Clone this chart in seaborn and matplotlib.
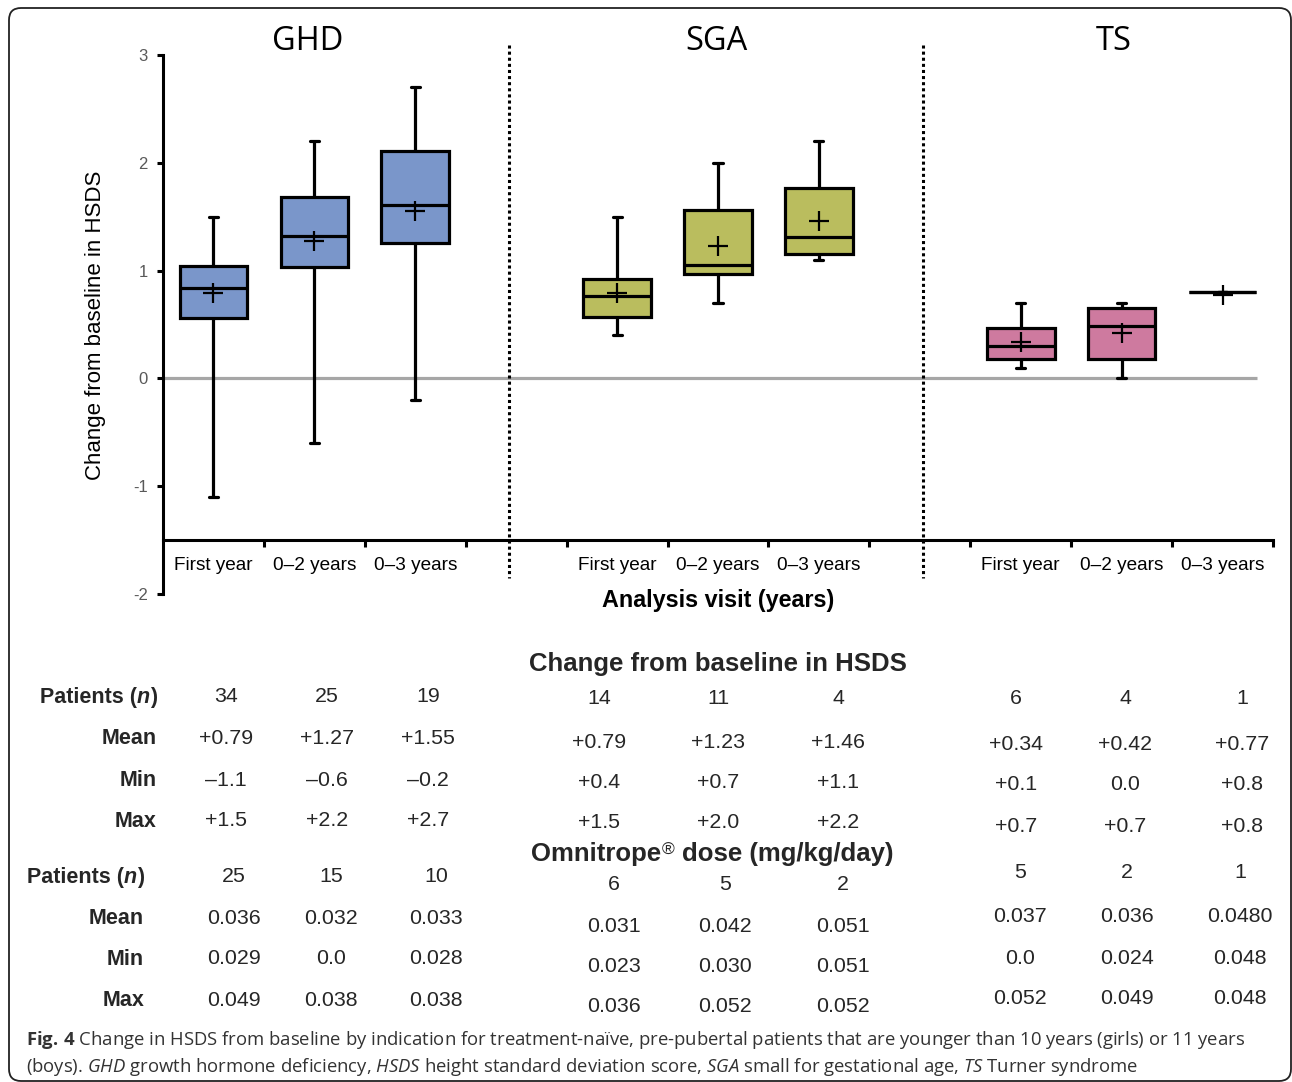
import numpy as np
import pandas as pd
import matplotlib
matplotlib.use("Agg")
import matplotlib.pyplot as plt
from matplotlib.patches import FancyBboxPatch
from matplotlib.transforms import IdentityTransform, blended_transform_factory
import seaborn as sns

# Indications and analysis visits (boxes ordered GHD, SGA, TS x visit)
indications = ["GHD", "SGA", "TS"]
visits = ["First year", "0–2 years", "0–3 years"]

# Change from baseline in HSDS
hsds_n = [34, 25, 19, 14, 11, 4, 6, 4, 1]
hsds_mean = [0.79, 1.27, 1.55, 0.79, 1.23, 1.46, 0.34, 0.42, 0.77]
hsds_min = [-1.1, -0.6, -0.2, 0.4, 0.7, 1.1, 0.1, 0.0, 0.8]
hsds_max = [1.5, 2.2, 2.7, 1.5, 2.0, 2.2, 0.7, 0.7, 0.8]
hsds_q1 = [0.56, 1.03, 1.26, 0.57, 0.97, 1.15, 0.18, 0.18, 0.80]
hsds_median = [0.84, 1.32, 1.61, 0.76, 1.05, 1.31, 0.30, 0.49, 0.80]
hsds_q3 = [1.04, 1.68, 2.11, 0.92, 1.56, 1.77, 0.47, 0.65, 0.80]

# Omnitrope dose (mg/kg/day)
dose_n = ["25", "15", "10", "6", "5", "2", "5", "2", "1"]
dose_mean = ["0.036", "0.032", "0.033", "0.031", "0.042", "0.051", "0.037", "0.036", "0.0480"]
dose_min = ["0.029", "0.0", "0.028", "0.023", "0.030", "0.051", "0.0", "0.024", "0.048"]
dose_max = ["0.049", "0.038", "0.038", "0.036", "0.052", "0.052", "0.052", "0.049", "0.048"]

palette = {"GHD": "#7a96ca", "SGA": "#babd5e", "TS": "#ce7a9f"}

# ---- long-form frame: five summary points per box give exact quartiles ----
box_ind = [ind for ind in indications for _ in visits]
box_visit = [v for _ in indications for v in visits]
box_slot = [f"{i} {v}" for i, v in zip(box_ind, box_visit)]
slot_order = box_slot[0:3] + ["gap1"] + box_slot[3:6] + ["gap2"] + box_slot[6:9]

rows = []
for k in range(len(box_slot)):
    for val in (hsds_min[k], hsds_q1[k], hsds_median[k], hsds_q3[k], hsds_max[k]):
        rows.append({"slot": box_slot[k], "indication": box_ind[k], "hsds": val})
df = pd.DataFrame(rows)

# ---- figure ----
W, H = 1292, 1082
sns.set_theme(style="white")
plt.rcParams["font.family"] = ["Liberation Sans", "DejaVu Sans"]
plt.rcParams["axes.unicode_minus"] = False
plt.rcParams["mathtext.fontset"] = "custom"
plt.rcParams["mathtext.rm"] = "Open Sans"
plt.rcParams["mathtext.it"] = "Open Sans:italic"
plt.rcParams["mathtext.bf"] = "Open Sans:bold"


def fx(px):
    return px / W


def fy(py):
    return 1 - py / H


fig = plt.figure(figsize=(W / 100, H / 100), dpi=100)
fig.patch.set_facecolor("white")
ax = fig.add_axes([163 / W, 1 - 594 / H, 1110 / W, 539 / H])
ax.set_facecolor("white")

sns.boxplot(
    data=df, x="slot", y="hsds", hue="indication", order=slot_order,
    hue_order=indications, palette=palette, dodge=False, width=0.67,
    whis=(0, 100), saturation=1, linecolor="black", linewidth=2.3,
    capwidths=0.09, showfliers=False, legend=False, ax=ax,
)

# mean markers
pos = [slot_order.index(s) for s in box_slot]
ax.plot(pos, hsds_mean, ls="none", marker="+", ms=14.5, mew=1.6,
        color="black", zorder=6)

# zero reference line
ax.plot([-0.5, 10.34], [0, 0], color="#a6a6a6", lw=2.3, zorder=0.5,
        solid_capstyle="butt")

# dotted separators between indications
for xs in (2.93, 7.03):
    ax.plot([xs, xs], [3.09, -1.85], color="black", lw=2.2,
            ls=(0, (1, 1)), clip_on=False, zorder=3)

ax.set_xlim(-0.5, 10.5)
ax.set_ylim(-2, 3)
for side in ("top", "right"):
    ax.spines[side].set_visible(False)
ax.spines["bottom"].set_position(("data", -1.5))
for side in ("left", "bottom"):
    ax.spines[side].set_color("black")
    ax.spines[side].set_linewidth(2.2)

ax.set_yticks(np.arange(-2, 4))
ax.set_yticklabels([str(v) for v in range(-2, 4)])
ax.set_xticks(np.arange(0.5, 11, 1.0))
ax.set_xticklabels([""] * 11)
ax.set_xticks(pos, minor=True)
ax.set_xticklabels(box_visit, minor=True)
ax.tick_params(axis="x", which="major", bottom=True, direction="out",
               length=5, width=2.2, color="black")
ax.tick_params(axis="x", which="minor", bottom=True, length=0, pad=12.5,
               labelsize=13.7, labelcolor="black")
ax.tick_params(axis="y", left=True, direction="out", length=4, width=2.2,
               color="black", labelsize=12, labelcolor="#595959", pad=7)
ax.set_xlabel("")
ax.set_ylabel("")
ax.grid(False)

# indication headings
tr = blended_transform_factory(ax.transData, ax.transAxes)
for ind, xc in zip(indications, [0.937, 4.98, 8.925]):
    ax.text(xc, 1.009, ind, transform=tr, ha="center", va="baseline",
            fontsize=23.5, family="Open Sans", color="black")

fig.text(fx(96), fy(325), "Change from baseline in HSDS", rotation=90,
         ha="center", va="center", fontsize=16, color="black")
fig.text(fx(718), fy(600), "Analysis visit (years)", ha="center",
         va="center", fontsize=16.8, weight="bold", color="black")

# ---- summary tables ----
num_fs, lab_fs, head_fs = 15.4, 15.5, 18.5


def fmt1(v):
    if v == 0:
        return "0.0"
    return ("+" if v > 0 else "–") + f"{abs(v):.1f}"


def patients_label(xr, y):
    t_close = fig.text(fx(xr), fy(y), ")", ha="right", va="center_baseline",
                       fontsize=lab_fs, weight="bold")
    t_n = ax.annotate("n", xy=(0, 0), xycoords=t_close, ha="right",
                      va="bottom", fontsize=lab_fs, weight="bold",
                      style="italic", annotation_clip=False)
    ax.annotate("Patients (", xy=(0, 0), xycoords=t_n, ha="right",
                va="bottom", fontsize=lab_fs, weight="bold",
                annotation_clip=False)


def row_labels(xr, ys):
    patients_label(xr, ys[0])
    for lab, y in zip(["Mean", "Min", "Max"], ys[1:]):
        fig.text(fx(xr), fy(y), lab, ha="right", va="center_baseline",
                 fontsize=lab_fs, weight="bold")


def table_block(cols_x, rows_y, table_rows):
    for k in range(9):
        ys = rows_y[box_ind[k]]
        for r, vals in enumerate(table_rows):
            fig.text(fx(cols_x[k]), fy(ys[r]), vals[k], ha="center",
                     va="center_baseline", fontsize=num_fs)


# block 1: change from baseline
fig.text(fx(718), fy(662), "Change from baseline in HSDS", ha="center",
         va="center_baseline", fontsize=head_fs, weight="bold")
row_labels(157, [695, 736, 778, 819])
hsds_table = [
    [str(v) for v in hsds_n],
    [f"{v:+.2f}" for v in hsds_mean],
    [fmt1(v) for v in hsds_min],
    [fmt1(v) for v in hsds_max],
]
table_block(
    [226, 327, 428, 599, 718, 838, 1016, 1125, 1242],
    {"GHD": [695, 736, 778, 819], "SGA": [697, 740, 780, 820],
     "TS": [697, 742, 783, 824]},
    hsds_table,
)

# block 2: dose
t_om = fig.text(fx(531), fy(852), "Omnitrope", ha="left",
                va="center_baseline", fontsize=head_fs, weight="bold")
t_reg = ax.annotate("®", xy=(1, 1), xycoords=t_om, xytext=(0.5, -0.5),
                    textcoords="offset points", ha="left", va="top",
                    fontsize=12.5, annotation_clip=False)
ax.annotate("dose (mg/kg/day)", xy=(1, 0), xycoords=(t_reg, t_om),
            xytext=(0.278 * head_fs, 0), textcoords="offset points",
            ha="left", va="bottom", fontsize=head_fs, weight="bold",
            annotation_clip=False)
row_labels(144, [875, 916, 957, 998])
table_block(
    [234, 331, 436, 614, 725, 843, 1020, 1127, 1240],
    {"GHD": [875, 916, 957, 998], "SGA": [882, 925, 965, 1005],
     "TS": [870, 915, 956, 997]},
    [dose_n, dose_mean, dose_min, dose_max],
)

# ---- caption ----
cap_fs = 13.3
fig.text(fx(26), fy(1037),
         r"$\mathbf{Fig.}$$\,$$\mathbf{4}$ Change in HSDS from baseline by indication for "
         "treatment-naïve, pre-pubertal patients that are younger than 10 years "
         "(girls) or 11 years",
         family="Open Sans", fontsize=cap_fs, ha="left",
         va="center_baseline", color="#333333")
fig.text(fx(26), fy(1064),
         r"(boys). $\mathit{GHD}$ growth hormone deficiency, $\mathit{HSDS}$ "
         r"height standard deviation score, $\mathit{SGA}$ small for "
         r"gestational age, $\mathit{TS}$ Turner syndrome",
         family="Open Sans", fontsize=cap_fs, ha="left",
         va="center_baseline", color="#333333")

# rounded outer frame
frame = FancyBboxPatch((9, 1), 1282, 1073,
                       boxstyle="round,pad=0,rounding_size=12",
                       transform=IdentityTransform(), fill=False,
                       ec="#222222", lw=1.3)
fig.add_artist(frame)

fig.savefig("out.png", dpi=100, facecolor="white")
